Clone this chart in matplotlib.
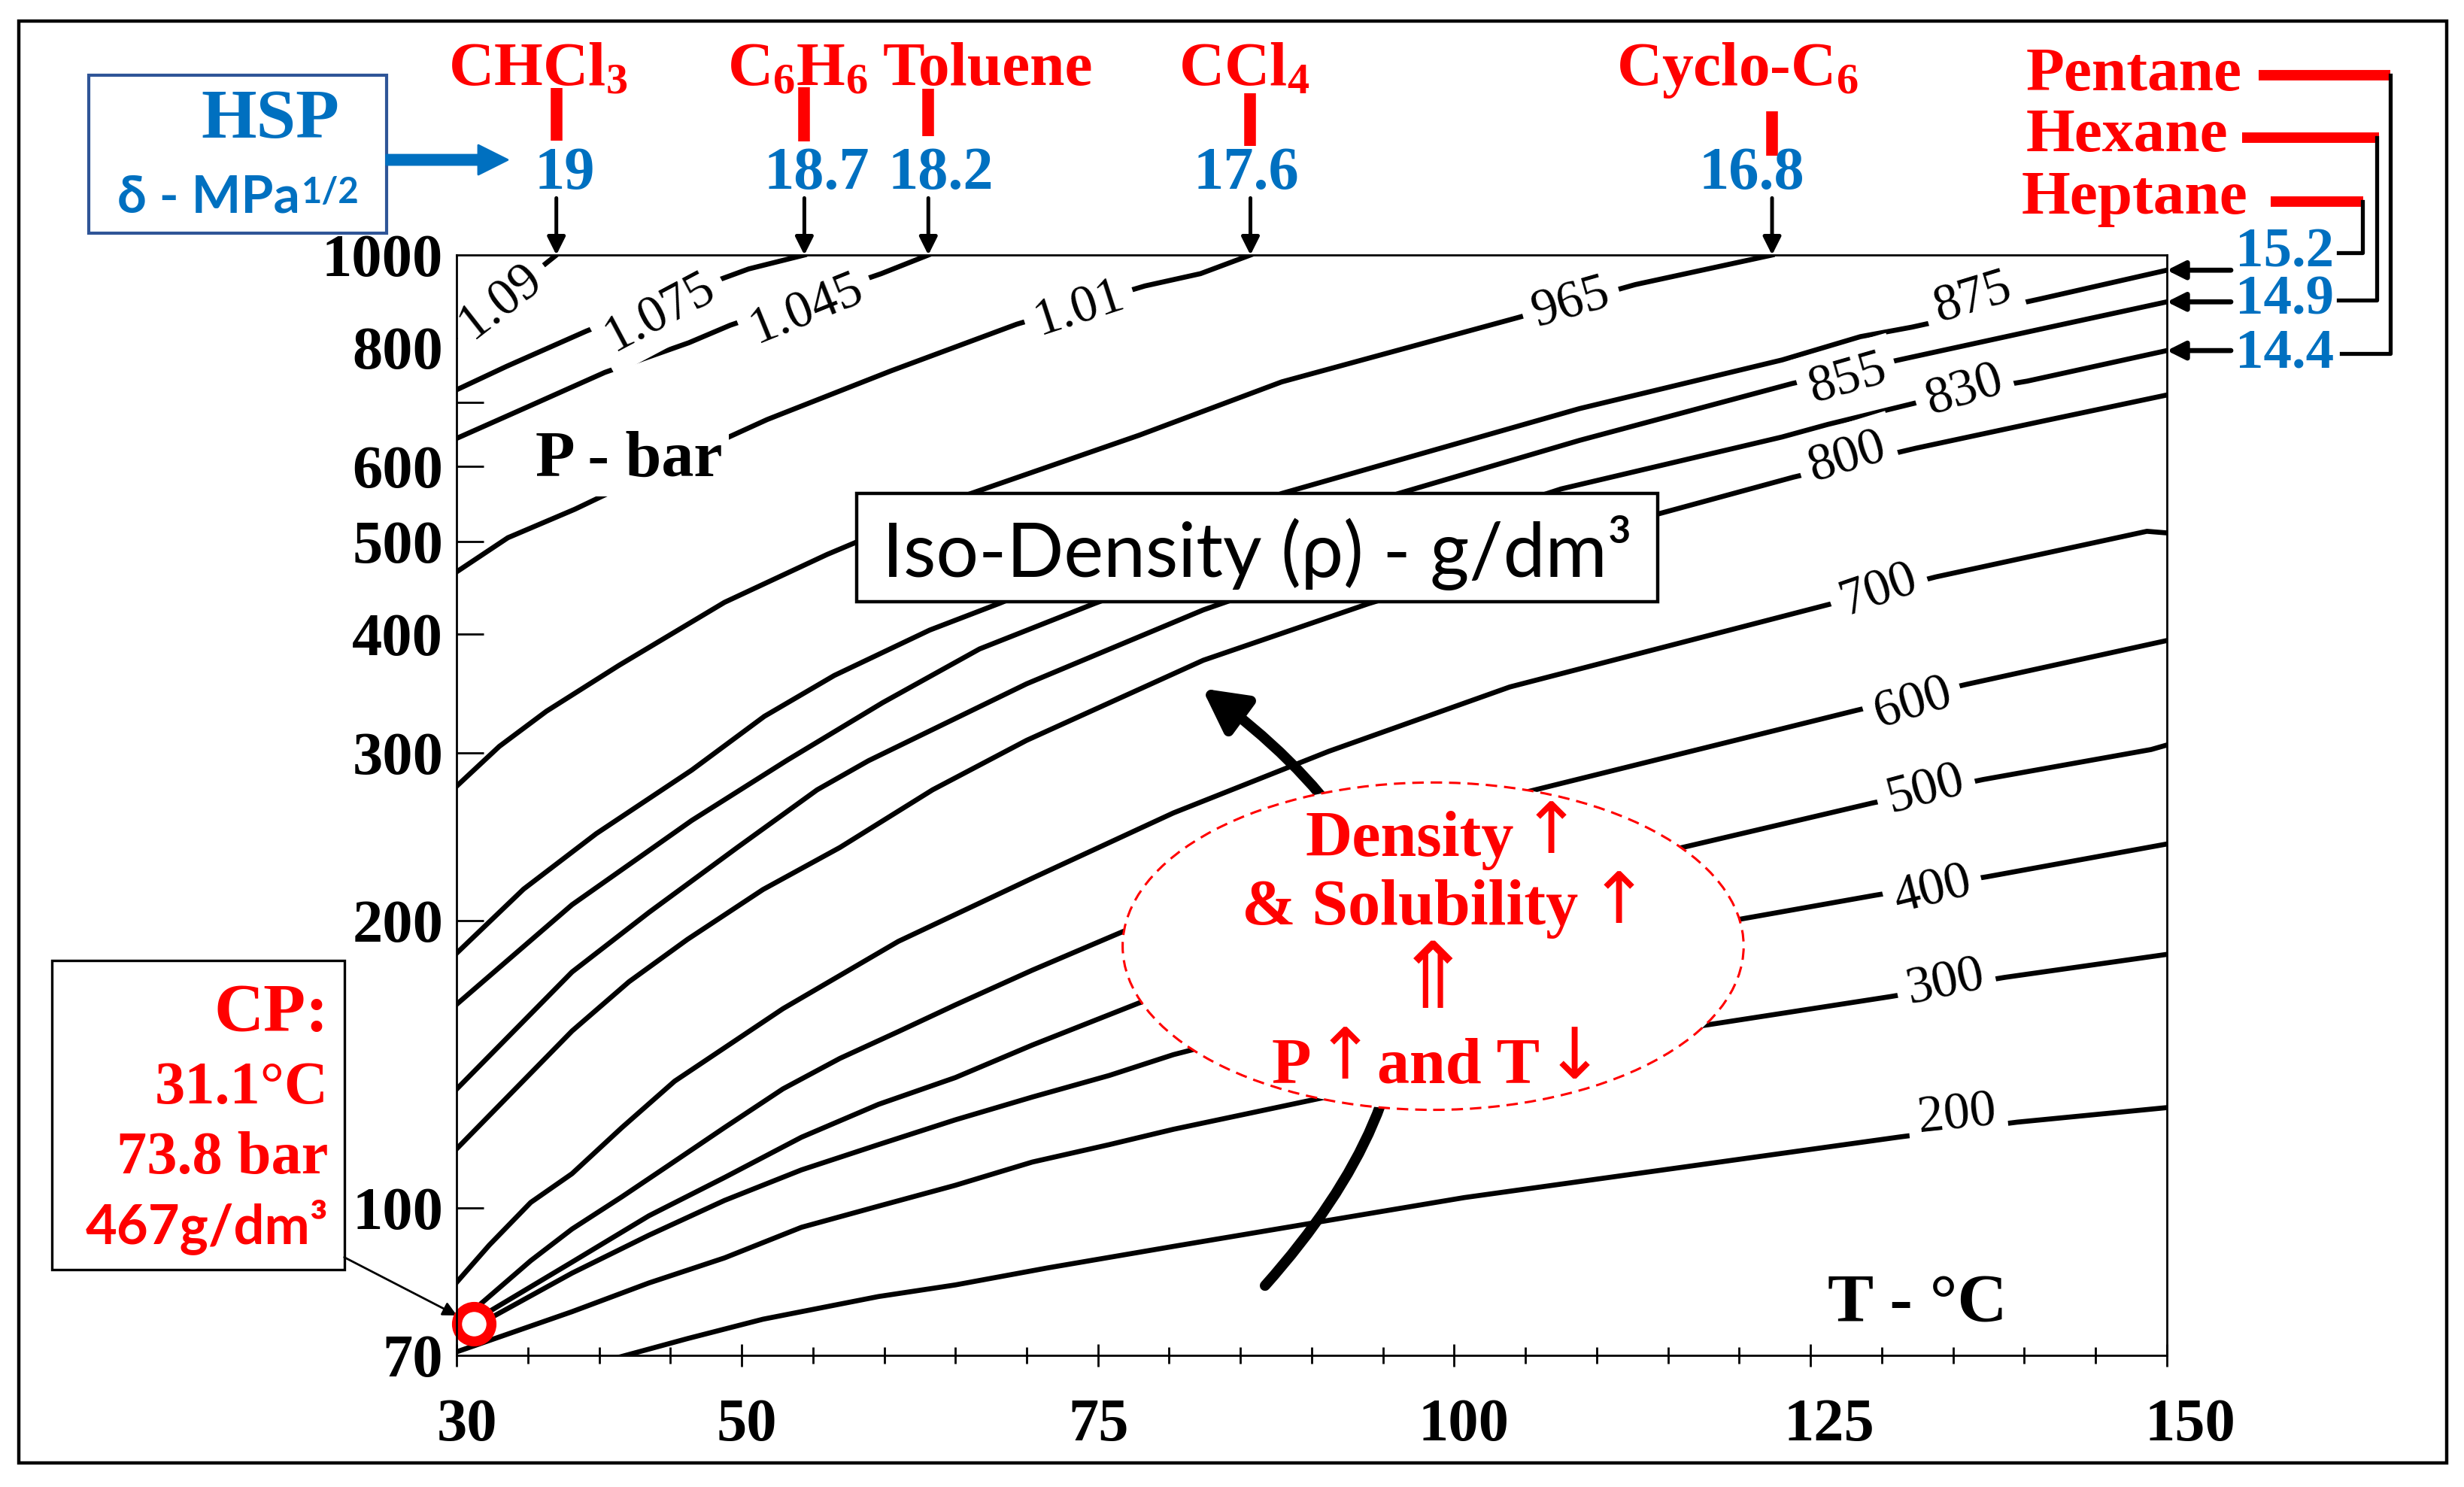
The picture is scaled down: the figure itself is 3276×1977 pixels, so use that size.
import matplotlib
matplotlib.use("Agg")
import matplotlib.pyplot as plt
import matplotlib.transforms as mtransforms
from matplotlib.patches import Rectangle, Ellipse, FancyArrowPatch
from matplotlib.lines import Line2D
from matplotlib.ticker import NullFormatter

plt.rcParams['mathtext.fontset'] = 'custom'
plt.rcParams['mathtext.rm'] = 'Liberation Serif:bold'
plt.rcParams['mathtext.it'] = 'Liberation Serif:italic:bold'
plt.rcParams['mathtext.bf'] = 'Liberation Serif:bold'

SERIF = ['Liberation Serif', 'DejaVu Serif', 'DejaVu Sans']
SANS = ['Lato', 'Open Sans', 'DejaVu Sans']
RED = '#FF0000'
BLUE = '#0070C0'

# iso-density lines of CO2 (T in degC, P in bar)
t_1090 = [30.0, 33.2, 37.0]
p_1090 = [821, 900, 1000]
t_1075 = [30.0, 33.5, 39.1, 44.8, 50.5, 54.4]
p_1075 = [722, 764, 832, 900, 967, 1000]
t_1045 = [30.0, 35.0, 40.4, 46.3, 49.2, 54.7, 59.8, 63.1]
p_1045 = [642, 693, 753, 809, 844, 900, 956, 1000]
t_1010 = [30.0, 33.6, 38.3, 45.0, 51.8, 60.5, 69.3, 73.8, 78.3, 82.2, 85.7]
p_1010 = [465, 505, 541, 604, 672, 756, 846, 886, 928, 956, 1000]
t_965 = [30.0, 33.0, 36.3, 41.4, 48.8, 56.0, 58.1, 65.8, 77.9, 87.9, 104.5, 112.7, 122.3]
p_965 = [277, 305, 332, 371, 432, 485, 500, 560, 647, 736, 860, 931, 1000]
t_875 = [30.0, 34.7, 39.8, 46.5, 51.6, 56.5, 63.2, 68.1, 78.0, 87.9, 108.8, 123.0, 128.5, 132.1, 141.2, 150.0]
p_875 = [185, 216, 247, 288, 328, 362, 404, 431, 496, 562, 690, 776, 821, 840, 900, 964]
t_855 = [30.0, 38.1, 46.5, 53.2, 59.9, 66.7, 74.8, 85.5, 96.1, 108.8, 123.7, 131.7, 141.3, 150.0]
p_855 = [163.5, 208, 255, 295, 339, 386, 431, 494, 562, 639, 733, 779, 837, 893]
t_830 = [30.0, 38.1, 43.5, 49.7, 55.3, 58.9, 70.0, 82.4, 95.7, 107.5, 123.0, 126.2, 135.2, 140.2, 150.0]
p_830 = [133.2, 176.8, 204.2, 238.9, 274.6, 294.6, 354.8, 424.2, 497.6, 568.2, 644.2, 664, 716.3, 737.3, 793.8]
t_800 = [30.0, 38.1, 42.1, 46.2, 51.5, 56.9, 63.4, 70.0, 82.4, 94.0, 104.1, 114.3, 123.8, 132.4, 141.3, 150.0]
p_800 = [115.3, 153.3, 172.7, 191.3, 215.8, 238.9, 274.6, 309.5, 375.6, 430.7, 478.9, 534.8, 584.6, 627, 669.4, 713]
t_700 = [30.0, 32.3, 35.2, 38.1, 41.6, 45.3, 52.9, 61.0, 70.4, 80.3, 91.2, 103.9, 126.1, 133.8, 148.6, 150.0]
p_700 = [83.5, 91.4, 101.3, 108.6, 121.4, 135.8, 161.8, 190.4, 221.8, 259.7, 301.4, 352.1, 429.1, 459.4, 512.9, 510.9]
t_600 = [31.2, 31.7, 35.2, 38.1, 41.6, 44.8, 48.8, 52.9, 56.9, 61.0, 65.0, 70.4, 76.7, 90.9, 105.0, 128.2, 135.9, 150.0]
p_600 = [75.5, 79.3, 88.0, 95.0, 102.7, 110.6, 121.4, 133.3, 143.5, 153.1, 163.3, 177.6, 194.8, 232.8, 273.0, 332.7, 354.2, 393.9]
t_500 = [31.2, 32.4, 38.1, 43.5, 48.8, 54.2, 59.6, 65.0, 70.4, 77.9, 96.8, 115.6, 129.3, 137.1, 148.9, 150.0]
p_500 = [75.5, 78.0, 87.7, 98.1, 107.6, 118.6, 128.4, 137.0, 148.2, 164.1, 200.8, 238.1, 265.9, 281.5, 302.7, 306.0]
t_400 = [31.2, 32.5, 38.1, 43.5, 48.8, 54.2, 59.6, 65.0, 70.4, 75.8, 80.3, 100.5, 120.0, 129.5, 137.4, 150.0]
p_400 = [75.5, 76.8, 85.4, 93.6, 101.8, 109.6, 116.5, 123.7, 130.7, 137.7, 144.8, 173.1, 200.8, 212.8, 222.6, 240.9]
t_300 = [30.0, 38.1, 43.5, 48.8, 54.2, 59.6, 65.0, 70.4, 75.8, 80.3, 98.9, 117.4, 130.6, 138.6, 150.0]
p_300 = [70.6, 77.8, 83.4, 88.6, 95.4, 100.4, 105.6, 111.7, 116.5, 120.9, 138.4, 155.3, 166.6, 174.5, 184.5]
t_200 = [41.1, 46.2, 51.5, 59.6, 65.0, 71.5, 80.3, 100.7, 131.3, 139.5, 150.0]
p_200 = [69.5, 72.9, 76.4, 80.7, 83.0, 86.5, 91.1, 102.5, 118.7, 123.0, 127.4]

curves = [(t_1090, p_1090), (t_1075, p_1075), (t_1045, p_1045), (t_1010, p_1010),
          (t_965, p_965), (t_875, p_875), (t_855, p_855), (t_830, p_830),
          (t_800, p_800), (t_700, p_700), (t_600, p_600), (t_500, p_500),
          (t_400, p_400), (t_300, p_300), (t_200, p_200)]

# inline labels of the lines
iso_labels = ['1.09', '1.075', '1.045', '1.01', '965', '875', '855', '830',
              '800', '700', '600', '500', '400', '300', '200']
label_T = [33.1, 44.3, 54.6, 73.7, 108.2, 136.4, 127.6, 135.8, 127.6, 129.8, 132.2, 133.1, 133.6, 134.5, 135.3]
label_P = [893, 870, 876, 878, 889, 899, 740, 719, 612, 444, 338, 274, 215, 172, 125]
label_rot = [38, 28, 22, 18, 16, 17, 16, 17, 17, 19, 17, 15, 14, 12, 6]

# critical point (marker as drawn)
cp_T = 31.2
cp_P = 75.5
cp_text = ['CP:', '31.1°C', '73.8 bar', '467g/dm³']

# solvents and their Hansen solubility parameters
solv_top = ['CHCl$_3$', 'C$_6$H$_6$', 'Toluene', 'CCl$_4$', 'Cyclo-C$_6$']
hsp_top = ['19', '18.7', '18.2', '17.6', '16.8']
top_T = [t_1090[-1], t_1075[-1], t_1045[-1], t_1010[-1], t_965[-1]]
solv_right = ['Pentane', 'Hexane', 'Heptane']
hsp_right = ['14.4', '14.9', '15.2']
right_P = [p_830[-1], p_855[-1], p_875[-1]]

x_major = [30, 50, 75, 100, 125, 150]
x_minor = [t for t in range(35, 150, 5) if t not in x_major]
y_labels = [70, 100, 200, 300, 400, 500, 600, 800, 1000]
y_minor = [100, 200, 300, 400, 500, 600, 700]

fig = plt.figure(figsize=(16.38, 9.885), dpi=200)
ax = fig.add_axes([0.1853, 0.0885, 0.6941, 0.7400])
ax.set_yscale('log')

for t, p in curves:
    ax.plot(t, p, color='k', lw=2.4, solid_joinstyle='round', zorder=2)

for txt, t, p, r in zip(iso_labels, label_T, label_P, label_rot):
    ax.text(t, p, txt, rotation=r, rotation_mode='anchor', ha='center', va='center',
            fontsize=25, family=SERIF, zorder=4,
            bbox=dict(boxstyle='square,pad=0.2', fc='white', ec='none'))

ax.set_xlim(30, 150)
ax.set_ylim(70, 1000)
ax.set_xticks(x_major, labels=[str(v) for v in x_major])
ax.set_xticks(x_minor, minor=True)
ax.set_yticks(y_labels, labels=[str(v) for v in y_labels])
ax.yaxis.remove_overlapping_locs = False
ax.set_yticks(y_minor, minor=True)
ax.yaxis.set_minor_formatter(NullFormatter())
ax.tick_params(axis='y', which='major', length=0, pad=6.4)
ax.tick_params(axis='y', which='minor', direction='in', length=13, width=1.0)
ax.tick_params(axis='x', which='major', direction='inout', length=11, width=1.0, pad=15)
ax.tick_params(axis='x', which='minor', direction='inout', length=8, width=1.0)
for lbl in ax.get_xticklabels() + ax.get_yticklabels():
    lbl.set_family(SERIF)
    lbl.set_fontweight('bold')
    lbl.set_fontsize(29)
# the x labels sit a little right of their ticks in the original
x_shift = [4.9, 2.3, 0.4, 4.5, 9.0, 11.0]
for lbl, dx in zip(ax.get_xticklabels(), x_shift):
    lbl.set_transform(lbl.get_transform() +
                      mtransforms.ScaledTranslation(dx / 72, 0, fig.dpi_scale_trans))
for sp in ax.spines.values():
    sp.set_linewidth(1.0)
    sp.set_zorder(10)

# axis titles inside the plot
ax.text(0.1006, 0.8132, 'P - bar', transform=ax.transAxes, ha='center', va='center',
        fontsize=31, fontweight='bold', family=SERIF, zorder=4,
        bbox=dict(boxstyle='square,pad=0.1', fc='white', ec='none'))
ax.text(0.8540, 0.0463, 'T - °C', transform=ax.transAxes, ha='center', va='center',
        fontsize=33, fontweight='bold', family=SERIF, zorder=4)

# Iso-density title box
ax.add_patch(Rectangle((0.2338, 0.6847), 0.4686, 0.0985, transform=ax.transAxes,
                       fc='white', ec='k', lw=1.6, zorder=5))
ax.text(0.4681, 0.7075, 'Iso-Density (ρ) - g/dm³', transform=ax.transAxes,
        ha='center', va='baseline', fontsize=36, family=SANS, zorder=6)

# curved arrow and the ellipse
ax.add_patch(FancyArrowPatch((0.4727, 0.0634), (0.4359, 0.6061), transform=ax.transAxes,
                             connectionstyle='arc3,rad=0.55',
                             arrowstyle='-|>,head_length=0.85,head_width=0.45',
                             mutation_scale=20, lw=5, color='k', zorder=3,
                             shrinkA=0, shrinkB=0))
ax.add_patch(Ellipse((0.5710, 0.3719), 0.3631, 0.2975, transform=ax.transAxes,
                     fc='white', ec=RED, lw=1.1, ls=(0, (5, 3)), zorder=5))

# words inside the ellipse (x, y, ha)
ell_words = ['Density', '& Solubility', 'P', 'and T']
ell_wx = [0.6184, 0.6558, 0.4883, 0.5859]
ell_wy = [0.4537, 0.3916, 0.2478, 0.2478]
ell_wha = ['right', 'right', 'center', 'center']
for s, xx, yy, ha in zip(ell_words, ell_wx, ell_wy, ell_wha):
    ax.text(xx, yy, s, transform=ax.transAxes, ha=ha, va='baseline', color=RED,
            fontsize=31, fontweight='bold', family=SERIF, zorder=6)
ell_arrows = ['↑', '↑', '⇑', '↑', '↓']
ell_ax = [0.6399, 0.6794, 0.5709, 0.5195, 0.6537]
ell_ay = [0.4745, 0.4105, 0.3385, 0.2690, 0.2690]
ell_as = [34, 34, 44, 34, 34]
for s, xx, yy, fs in zip(ell_arrows, ell_ax, ell_ay, ell_as):
    ax.text(xx, yy, s, transform=ax.transAxes, ha='center', va='center', color=RED,
            fontsize=fs, family=['DejaVu Sans'], zorder=6)

# critical point marker, box and pointer
ax.plot([cp_T], [cp_P], 'o', ms=16.5, mfc='white', mec=RED, mew=4.8, zorder=7, clip_on=False)
fig.add_artist(Rectangle((0.0211, 0.1461), 0.1186, 0.2082, transform=fig.transFigure,
                         fill=False, ec='k', lw=1.2))
cp_y = [0.3063, 0.2581, 0.2111, 0.1636]
cp_size = [33, 29, 29, 26]
cp_fam = [SERIF, SERIF, SERIF, SANS]
for s, yy, fs, fam in zip(cp_text, cp_y, cp_size, cp_fam):
    fig.text(0.1333, yy, s, ha='right', va='baseline', color=RED, fontsize=fs,
             fontweight='bold', family=fam)
ax.annotate('', xy=(cp_T, cp_P), xycoords='data', xytext=(0.1397, 0.1545),
            textcoords='figure fraction', annotation_clip=False,
            arrowprops=dict(arrowstyle='-|>', lw=1.0, color='k', mutation_scale=14,
                            shrinkA=0, shrinkB=9))

# HSP box and blue arrow
fig.add_artist(Rectangle((0.0360, 0.8431), 0.1208, 0.1062, transform=fig.transFigure,
                         fill=False, ec='#2F5597', lw=1.5))
fig.text(0.1097, 0.9186, 'HSP', ha='center', va='center', color=BLUE, fontsize=34,
         fontweight='bold', family=SERIF)
t_mpa = fig.text(0.0475, 0.8573, 'δ - MPa', ha='left', va='baseline', color=BLUE,
                 fontsize=25, fontweight='bold', family=SANS)
ax.annotate('1/2', xy=(1.0, 1.0), xycoords=t_mpa, xytext=(1, -1), textcoords='offset points',
            ha='left', va='top', color=BLUE, fontsize=17, fontweight='bold', family=SANS,
            annotation_clip=False)
fig.add_artist(FancyArrowPatch((0.1568, 0.8925), (0.2060, 0.8925), transform=fig.transFigure,
                               arrowstyle='simple,head_length=14,head_width=14,tail_width=4.7',
                               mutation_scale=1, color=BLUE, shrinkA=0, shrinkB=0))

# solvents above the plot
blend_x = mtransforms.blended_transform_factory(ax.transData, fig.transFigure)
name_x = [0.2184, 0.3237, 0.4010, 0.5048, 0.7050]
bar_y = [(0.9408, 0.9052), (0.9412, 0.9051), (0.9402, 0.9086), (0.9372, 0.9017), (0.9250, 0.8954)]
num_x = [0.2293, 0.3313, 0.3817, 0.5057, 0.7108]
for i in range(len(solv_top)):
    fig.text(name_x[i], 0.9430, solv_top[i], ha='center', va='baseline', color=RED,
             fontsize=30, fontweight='bold', family=SERIF)
    fig.add_artist(Line2D([top_T[i], top_T[i]], list(bar_y[i]), transform=blend_x,
                          color=RED, lw=5.6, solid_capstyle='butt'))
    fig.text(num_x[i], 0.8827, hsp_top[i], ha='center', va='center', color=BLUE,
             fontsize=29, fontweight='bold', family=SERIF)
    ax.annotate('', xy=(top_T[i], 1000), xycoords='data', xytext=(top_T[i], 0.8668),
                textcoords=blend_x, annotation_clip=False,
                arrowprops=dict(arrowstyle='-|>,head_length=0.36,head_width=0.18', color='k',
                                lw=1.8, mutation_scale=20, shrinkA=0, shrinkB=0))

# alkanes on the right
blend_y = mtransforms.blended_transform_factory(fig.transFigure, ax.transData)
name_cx = [0.8659, 0.8631, 0.8664]
name_by = [0.9394, 0.8985, 0.8563]
num_cy = [0.7622, 0.7981, 0.8300]
red_x = [(0.9168, 0.9700), (0.9099, 0.9654), (0.9214, 0.9592)]
red_y = [0.9494, 0.9076, 0.8645]
brk_x = [(0.9700, 0.9503), (0.9645, 0.9490), (0.9587, 0.9490)]
for i in range(len(solv_right)):
    fig.text(name_cx[i], name_by[i], solv_right[i], ha='center', va='baseline', color=RED,
             fontsize=30, fontweight='bold', family=SERIF)
    fig.add_artist(Line2D(list(red_x[i]), [red_y[i], red_y[i]], transform=fig.transFigure,
                          color=RED, lw=5.0, solid_capstyle='butt'))
    fig.add_artist(Line2D([brk_x[i][0], brk_x[i][0], brk_x[i][1]],
                          [red_y[i], num_cy[i], num_cy[i]], transform=fig.transFigure,
                          color='k', lw=1.9))
    fig.text(0.9271, num_cy[i], hsp_right[i], ha='center', va='center', color=BLUE,
             fontsize=27, fontweight='bold', family=SERIF)
    ax.annotate('', xy=(150, right_P[i]), xycoords='data', xytext=(0.9054, right_P[i]),
                textcoords=blend_y, annotation_clip=False,
                arrowprops=dict(arrowstyle='-|>,head_length=0.36,head_width=0.18', color='k',
                                lw=2.4, mutation_scale=20, shrinkA=0, shrinkB=0))

# outer frame
fig.add_artist(Rectangle((0.0075, 0.0161), 0.9855, 0.9699, transform=fig.transFigure,
                         fill=False, ec='k', lw=1.6))

fig.savefig('out.png', dpi=200)
